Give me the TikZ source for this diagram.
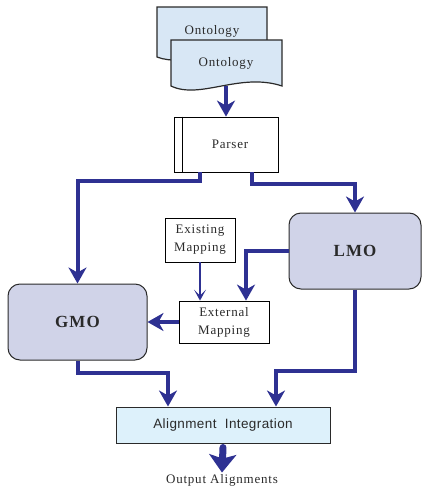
\documentclass[tikz,border=0pt]{standalone}
\usepackage{fontspec}
\setmainfont{Liberation Serif}[LetterSpace=6]
\newfontfamily\sansf{Liberation Sans}[LetterSpace=3]
\usetikzlibrary{arrows.meta}
\definecolor{lineblue}{HTML}{2E3192}
\definecolor{docfill}{HTML}{D8E7F5}
\definecolor{modfill}{HTML}{D0D3E8}
\definecolor{alfill}{HTML}{DDF1FB}
\definecolor{edge}{HTML}{2A2A2A}
\begin{document}
\begin{tikzpicture}[x=1pt,y=-1pt,
  lbl/.style={font=\fontsize{13}{18}\selectfont, align=center, text=edge},
  plainbox/.style={draw=black, line width=0.8pt, fill=white, inner sep=0pt, lbl},
  modbox/.style={draw=edge, line width=1pt, fill=modfill, rounded corners=12pt, inner sep=0pt,
     font=\fontsize{17}{19}\selectfont\bfseries, text=edge},
  docshape/.style={draw=edge, line width=1.2pt, fill=docfill},
  conn/.style={draw=lineblue, line width=4pt, -{Stealth[length=16pt,width=18pt,inset=5pt]}},
  thinconn/.style={draw=lineblue, line width=2pt, -{Stealth[length=11pt,width=12pt,inset=6pt]}},
  outconn/.style={draw=lineblue, line width=7pt, line cap=round, -{Stealth[length=18pt,width=27pt,inset=4pt]}}
]
\useasboundingbox (0,0) rectangle (422,490);

% back document
\draw[docshape] (157,7) -- (267,7) -- (267,57)
  .. controls (225,45) and (185,68) .. (157,57) -- cycle;
\node[lbl] (ont1) at (212,31) {Ontology};
% front document
\draw[docshape] (171,40) -- (282,40) -- (282,86)
  .. controls (240,72) and (200,100) .. (171,86) -- cycle;
\node[lbl] (ont2) at (226,63) {Ontology};
\coordinate (docout) at (226,86);

% parser
\node[plainbox, minimum width=104pt, minimum height=55pt] (parser) at (226,144.5) {\hspace*{8pt}Parser};
\draw[black, line width=0.8pt] ([xshift=9pt]parser.north west) -- ([xshift=9pt]parser.south west);

% modules
\node[modbox, minimum width=139pt, minimum height=76pt] (gmo) at (77.5,322) {GMO};
\node[modbox, minimum width=132pt, minimum height=76pt] (lmo) at (355,251) {LMO};

\node[plainbox, minimum width=70pt, minimum height=44pt] (exist) at (200,240) {Existing\\Mapping};
\node[plainbox, minimum width=90pt, minimum height=42pt] (ext) at (224,322) {External\\Mapping};

\node[draw=edge, line width=1pt, fill=alfill, minimum width=214pt, minimum height=36pt, inner sep=0pt,
  font=\fontsize{13.5}{16}\selectfont\sansf, text=edge] (align) at (223,425) {Alignment\ \ Integration};

\node[lbl] (outp) at (222,480) {Output Alignments};

% connectors
\draw[conn] (docout) -- (parser.north);
\draw[conn] ([xshift=-26pt]parser.south) -- ++(0,9) -| (gmo.north);
\draw[conn] ([xshift=26pt]parser.south) -- ++(0,12) -| (lmo.north);
\draw[conn] (lmo.west) -| ([xshift=22pt]ext.north);
\draw[thinconn] (exist.south) -- (exist.south |- ext.north);
\draw[conn] (ext.west) -- (gmo.east);
\draw[conn] (gmo.south) -- ++(0,12) -| ([xshift=-55pt]align.north);
\draw[conn] (lmo.south) -- ++(0,81) -| ([xshift=53pt]align.north);
\draw[outconn] ([yshift=-4pt]align.south) -- ([yshift=-2pt]outp.north);
\end{tikzpicture}
\end{document}
